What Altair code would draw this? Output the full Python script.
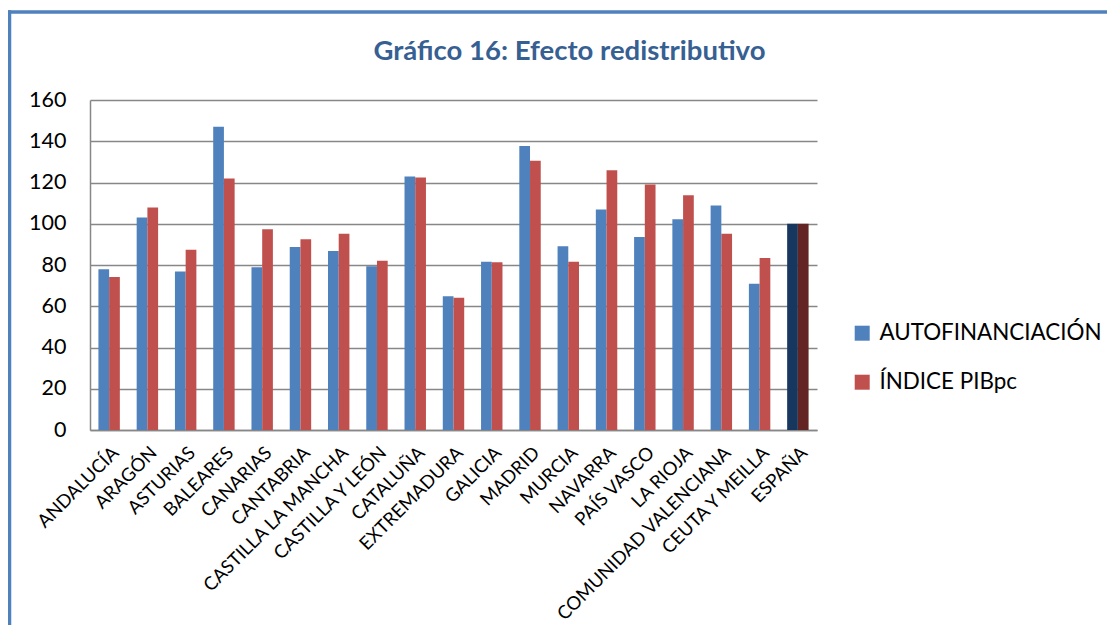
import altair as alt
import pandas as pd

regiones = ["ANDALUCÍA", "ARAGÓN", "ASTURIAS", "BALEARES", "CANARIAS", "CANTABRIA",
            "CASTILLA LA MANCHA", "CASTILLA Y LEÓN", "CATALUÑA", "EXTREMADURA", "GALICIA",
            "MADRID", "MURCIA", "NAVARRA", "PAÍS VASCO", "LA RIOJA", "COMUNIDAD VALENCIANA",
            "CEUTA Y MEILLA", "ESPAÑA"]
autofinanciacion = [77.9, 103.0, 76.8, 147.0, 78.9, 88.7, 86.8, 79.4, 122.9, 64.9, 81.6,
                    137.7, 89.1, 106.9, 93.6, 102.2, 108.8, 70.9, 100.0]
indice_pibpc = [74.2, 107.9, 87.4, 121.9, 97.3, 92.5, 95.2, 82.1, 122.4, 64.1, 81.3,
                130.5, 81.6, 126.0, 119.0, 113.8, 95.1, 83.4, 100.0]
series = ["AUTOFINANCIACIÓN", "ÍNDICE PIBpc"]
claves = ["AUTOFINANCIACIÓN", "ÍNDICE PIBpc", "ESPAÑA AUTOFINANCIACIÓN", "ESPAÑA ÍNDICE PIBpc"]
colores = ["#4F81BD", "#C0504D", "#17375E", "#632523"]

rows = []
for i, r in enumerate(regiones):
    for s, vals in zip(series, [autofinanciacion, indice_pibpc]):
        clave = s if r != "ESPAÑA" else "ESPAÑA " + s
        rows.append({"region": r, "serie": s, "valor": vals[i], "clave": clave})
df = pd.DataFrame(rows)

FONT = "Lato"
W, H = 727, 330
PAD = {"left": 82, "top": 92, "right": 290, "bottom": 195}

bars = alt.Chart(df).mark_bar().encode(
    x=alt.X("region:N", sort=regiones,
            scale=alt.Scale(paddingInner=0.44, paddingOuter=0.22),
            axis=alt.Axis(title=None, labelAngle=-45, labelAlign="right", labelBaseline="top",
                          labelFontSize=18.5, labelFont=FONT, labelColor="#000000",
                          ticks=False, domainColor="#878787", domainWidth=1.5,
                          labelPadding=13, labelOverlap=False, labelLimit=400)),
    xOffset=alt.XOffset("serie:N", sort=series),
    y=alt.Y("valor:Q", scale=alt.Scale(domain=[0, 160]),
            axis=alt.Axis(title=None, values=[0, 20, 40, 60, 80, 100, 120, 140, 160],
                          labelFontSize=21.5, labelFont=FONT, labelColor="#000000",
                          ticks=False, domainColor="#878787", domainWidth=1.5,
                          gridColor="#878787", gridWidth=1.5, labelPadding=24)),
    color=alt.Color("clave:N", scale=alt.Scale(domain=claves, range=colores),
                    legend=alt.Legend(title=None, values=series, orient="none",
                                      legendX=761, legendY=222, symbolType="square",
                                      symbolSize=225, symbolStrokeWidth=0,
                                      labelFontSize=22.4, labelFont=FONT, labelColor="#000000",
                                      labelLimit=400, rowPadding=26, labelOffset=6)),
)

frame_data = alt.Data(values=[{"k": 1}])
top_border = alt.Chart(frame_data).mark_rule(color="#4F81BD", strokeWidth=3.5).encode(
    x=alt.value(-82), x2=alt.value(W + 290), y=alt.value(-88))
left_border = alt.Chart(frame_data).mark_rule(color="#4F81BD", strokeWidth=3.5).encode(
    x=alt.value(-80.5), y=alt.value(-89.7), y2=alt.value(H + 195))

chart = alt.layer(bars, top_border, left_border).properties(
    width=W, height=H,
    padding=PAD,
    autosize=alt.AutoSizeParams(type="none"),
    title=alt.TitleParams("Gráfico 16: Efecto redistributivo", font=FONT, fontSize=27.5,
                          fontWeight="bold", color="#376092", anchor="middle",
                          baseline="alphabetic", dx=116, dy=79, offset=0),
).configure_view(stroke=None).configure_axis(gridDash=[])

chart.save("out.html", embed_options={"renderer": "svg", "actions": False})
